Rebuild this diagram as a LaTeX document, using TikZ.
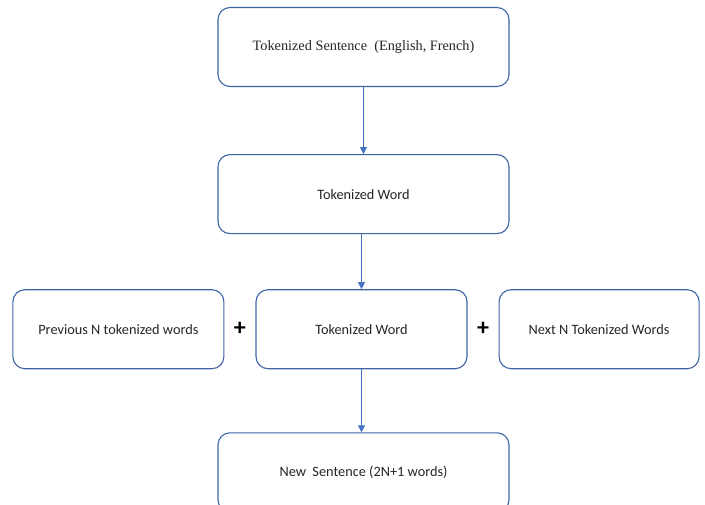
\documentclass[tikz,border=0pt]{standalone}
\usepackage{fontspec}
\setmainfont{Carlito}
\newfontfamily\timesfont{Liberation Serif}
\usetikzlibrary{positioning, calc, arrows.meta}
\definecolor{boxline}{RGB}{62,100,165}
\definecolor{arrowline}{RGB}{68,114,196}
\tikzset{
x=1pt, y=-1pt, % pixel-like units, y pointing down
box/.style={draw=boxline, line width=1.1pt, rounded corners=12pt, fill=white,
  minimum width=291pt, minimum height=79pt, align=center, text=black!85,
  font=\fontsize{14.3}{17}\selectfont}, % every rounded box
narrow/.style={minimum width=211pt}, % boxes of the middle row
plus/.style={font=\fontsize{24}{24}\selectfont\bfseries}, % the + signs
flow/.style={draw=arrowline, line width=0.8pt, -{Triangle[length=7pt,width=7pt]}}, % connectors
}
\begin{document}
\begin{tikzpicture}
  \useasboundingbox (0,0) rectangle (705,504);
  \node[box, font=\timesfont\fontsize{14.3}{17}\selectfont] (sent) at (363.5,47) {Tokenized Sentence~~(English, French)};
  \node[box, below=67pt of sent] (word) {Tokenized Word};
  \node[box, narrow, below=55pt of word, xshift=-2pt] (mid) {Tokenized Word};
  \node[box, narrow, left=31pt of mid] (prev) {Previous N tokenized words};
  \node[box, narrow, minimum width=200pt, right=31pt of mid] (next) {Next N Tokenized Words};
  \node[box, below=63pt of mid, xshift=2pt] (newsent) {New~ Sentence (2N+1 words)};

  \node[plus] (plusL) at ($(prev.east)!0.5!(mid.west)$) {+};
  \node[plus] (plusR) at ($(mid.east)!0.5!(next.west)$) {+};

  \draw[flow] (sent) -- (word);
  \draw[flow] (word.south -| mid.north) -- (mid.north);
  \draw[flow] (mid) -- (mid |- newsent.north);
\end{tikzpicture}
\end{document}
